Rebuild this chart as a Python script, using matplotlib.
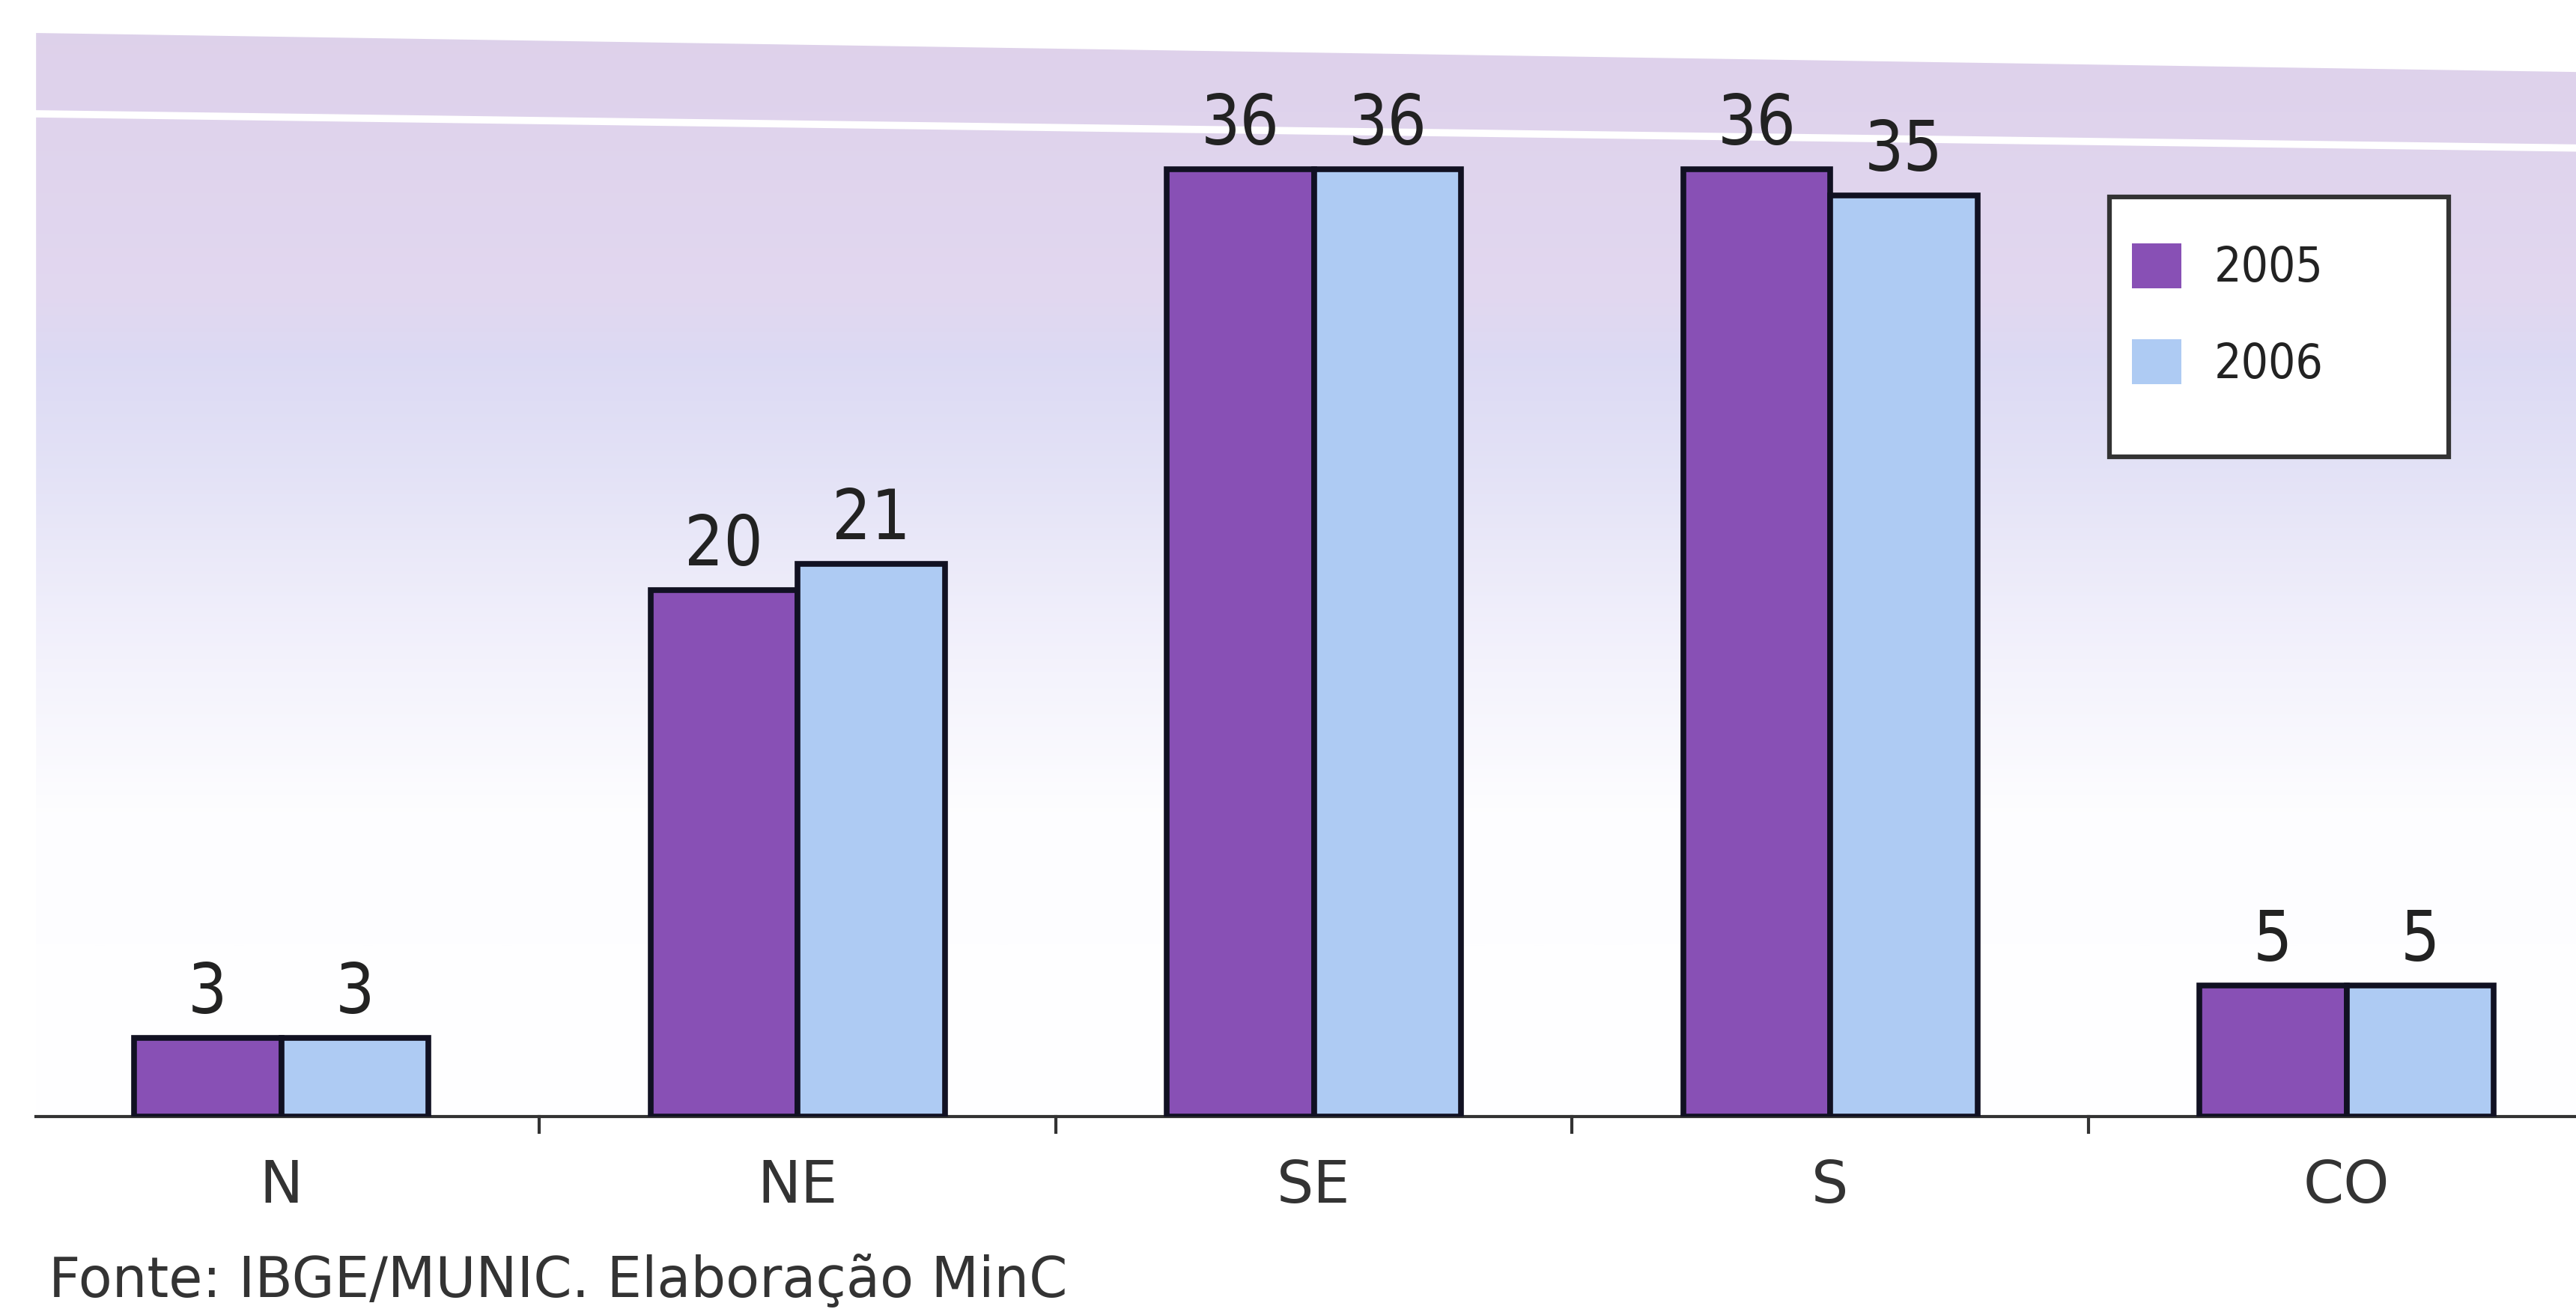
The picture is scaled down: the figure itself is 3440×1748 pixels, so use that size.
import numpy as np
import matplotlib
matplotlib.use("Agg")
import matplotlib.pyplot as plt
from matplotlib.colors import LinearSegmentedColormap
from matplotlib.patches import Rectangle, Polygon

categories = ["N", "NE", "SE", "S", "CO"]
series_labels = ["2005", "2006"]
values_2005 = [3, 20, 36, 36, 5]
values_2006 = [3, 21, 36, 35, 5]
source_text = "Fonte: IBGE/MUNIC. Elaboração MinC"

plt.rcParams['font.family'] = ['DejaVu Sans']

col_a = "#8850b5"
col_b = "#aecbf3"

fig = plt.figure(figsize=(34.41, 17.48), dpi=100)
fig.patch.set_facecolor("white")
ax = fig.add_axes([0.014, 0.1468, 0.986, 0.828])

# gradient background (clipped to slightly skewed top edge)
cmap = LinearSegmentedColormap.from_list("bg", [
    (0.0, (1.0, 1.0, 1.0)),
    (0.28, (0.993, 0.993, 1.0)),
    (0.45, (0.945, 0.94, 0.985)),
    (0.60, (0.89, 0.885, 0.965)),
    (0.70, (0.865, 0.855, 0.955)),
    (0.76, (0.885, 0.845, 0.94)),
    (1.0, (0.87, 0.82, 0.92)),
])
grad = np.linspace(0, 1, 512).reshape(-1, 1)
im = ax.imshow(grad, aspect="auto", cmap=cmap, origin="lower",
               extent=[0, 1, 0, 1], transform=ax.transAxes, zorder=0)
clip = Polygon([(0, 0), (1, 0), (1, 0.964), (0, 1.0)], closed=True,
               transform=ax.transAxes, facecolor="none", edgecolor="none")
ax.add_patch(clip)
im.set_clip_path(clip)

x = np.arange(len(categories))
w = 0.285
b1 = ax.bar(x - w / 2, values_2005, w, color=col_a, edgecolor="#111122", linewidth=5.5, zorder=3, label=series_labels[0])
b2 = ax.bar(x + w / 2, values_2006, w, color=col_b, edgecolor="#111122", linewidth=5.5, zorder=3, label=series_labels[1])

for bars in (b1, b2):
    for r in bars:
        ax.annotate(f"{int(r.get_height())}", (r.get_x() + r.get_width() / 2, r.get_height()),
                    xytext=(0, 10), textcoords="offset points", ha="center", va="bottom",
                    fontsize=66, fontstretch="condensed", color="#222222", zorder=4)

ax.set_xlim(-0.475, 4.446)
ax.set_ylim(0, 41.17)

# white line near top
ax.plot([-0.475, 4.446], [38.1, 36.8], color="white", linewidth=7, zorder=1)

for s in ["top", "right", "left"]:
    ax.spines[s].set_visible(False)
ax.spines["bottom"].set_color("#333333")
ax.spines["bottom"].set_linewidth(3)
ax.set_yticks([])
ax.set_xticks(x)
ax.set_xticklabels(categories, fontsize=56, color="#333333")
ax.tick_params(axis="x", length=0, pad=39)
for b in [0.5, 1.5, 2.5, 3.5]:
    ax.plot([b, b], [0, -0.6], color="#333333", linewidth=3, clip_on=False, zorder=3)

# legend frame + entries
ax.add_patch(Rectangle((0.816, 0.609), 0.1336, 0.240, transform=ax.transAxes,
                       facecolor="white", edgecolor="#333333", linewidth=4.5, zorder=5))
leg = ax.legend(loc="upper left", bbox_to_anchor=(0.825, 0.806), borderaxespad=0,
                fontsize=46, frameon=False, borderpad=0,
                handlelength=1.03, handleheight=1.06, labelspacing=1.0,
                handletextpad=0.69)
leg.set_zorder(6)
for p in leg.get_patches():
    p.set_edgecolor("none")
for t in leg.get_texts():
    t.set_fontstretch("condensed")
    t.set_color("#222222")

fig.text(0.019, 0.021, source_text, fontsize=53,
         color="#333333", ha="left", va="center")

fig.savefig("out.png", dpi=100)
